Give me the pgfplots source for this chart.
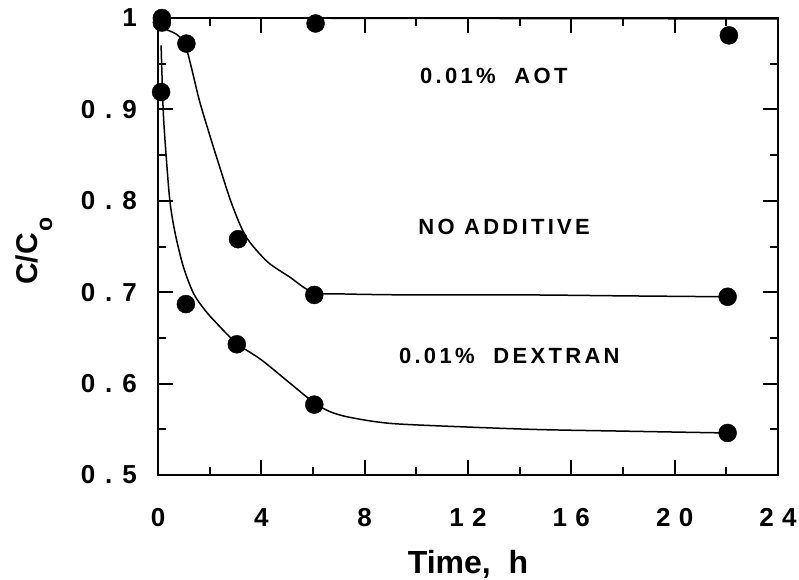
\documentclass[border=0pt]{standalone}
\usepackage{fontspec}
\setmainfont{Liberation Sans}
\newfontfamily\tickfam[LetterSpace=32]{Liberation Sans}
\newfontfamily\ytickfam[LetterSpace=38]{Liberation Sans}
\newfontfamily\labfam[LetterSpace=15]{Liberation Sans}
\usepackage{pgfplots}
\pgfplotsset{compat=1.18}
\newcommand\tickfont{\tickfam\bfseries\fontsize{26bp}{26bp}\selectfont}
\newcommand\ytickfont{\ytickfam\bfseries\fontsize{26bp}{26bp}\selectfont}
\newcommand\labfont{\labfam\bfseries\fontsize{22bp}{22bp}\selectfont}
\begin{document}
\begin{tikzpicture}
\begin{axis}[
  name=ax,
  scale only axis, width=620bp, height=457bp,
  xmin=0, xmax=24, ymin=0.5, ymax=1,
  clip=false,
  xtick={0,4,8,12,16,20,24},
  minor xtick={2,6,10,14,18,22},
  xticklabels={0,4,8,12,16,20,24},
  ytick={0.5,0.6,0.7,0.8,0.9,1},
  minor ytick={0.55,0.65,0.75,0.85,0.95},
  yticklabels={0.5,0.6,0.7,0.8,0.9,1},
  tick align=inside,
  major tick length=15bp, minor tick length=8bp,
  axis line style={line width=2.5bp},
  every tick/.style={black, line width=2bp},
  xticklabel style={font=\tickfont, anchor=north, inner sep=0pt, yshift=-33bp},
  yticklabel style={font=\ytickfont, anchor=east, inner sep=0pt, xshift=-21bp},
  xlabel={Time,\ \ h},
  xlabel style={font=\bfseries\fontsize{32bp}{32bp}\selectfont, at={(axis description cs:0.5,0)}, anchor=north, inner sep=0pt, yshift=-75bp},
  ylabel={C/C\hspace{2bp}\raisebox{-15bp}{\fontsize{23bp}{23bp}\selectfont o}},
  ylabel style={font=\bfseries\fontsize{30bp}{30bp}\selectfont, at={(axis description cs:-0.195,0.49)}, anchor=base, inner sep=0pt},
]
% 0.01% AOT
\addplot[black, line width=1.5bp, mark=none] coordinates {(0.15,1.0) (24,0.999)};
\addplot[only marks, mark=*, mark size=9bp, black] coordinates {(0.15,1.0) (6.1,0.994) (22.1,0.981)};
% No additive
\addplot[black, line width=1.5bp, mark=none, smooth, tension=0.5] coordinates {
 (0.15,0.995) (0.3,0.988) (0.6,0.984) (0.85,0.979) (1.1,0.966) (1.3,0.945) (1.6,0.910)
 (2.0,0.872) (2.4,0.836) (2.85,0.797) (3.4,0.761) (4.17,0.735) (4.69,0.724) (5.08,0.717)
 (6.0,0.700) (7.3,0.698) (10,0.697) (14.4,0.697) (18,0.696) (22,0.695)};
\addplot[only marks, mark=*, mark size=9bp, black] coordinates {(0.15,0.995) (1.1,0.972) (3.1,0.758) (6.05,0.697) (22.05,0.695)};
% 0.01% Dextran
\addplot[black, line width=1.5bp, mark=none, smooth, tension=0.5] coordinates {
 (0.12,0.97) (0.2,0.90) (0.3,0.855) (0.46,0.80) (0.66,0.765) (0.98,0.728) (1.37,0.699)
 (1.8,0.681) (2.27,0.666) (3.05,0.644) (4.0,0.626) (5.0,0.603) (6.0,0.580)
 (6.6,0.570) (7.27,0.564) (8.5,0.558) (9.85,0.555) (14.4,0.550) (18,0.548) (22,0.546)};
\addplot[only marks, mark=*, mark size=9bp, black] coordinates {(0.12,0.919) (1.08,0.687) (3.05,0.643) (6.05,0.577) (22.05,0.546)};
\node[font=\labfont] at (axis cs:13.0,0.9365) {0.01\%\ \ AOT};
\node[font=\labfont] at (axis cs:13.4,0.771) {NO\ ADDITIVE};
\node[font=\labfont] at (axis cs:13.6,0.630) {0.01\%\ \ DEXTRAN};
\end{axis}
\pgfresetboundingbox
\path (ax.south west) ++(-158bp,-105bp) rectangle ++(799bp,580bp);
\end{tikzpicture}
\end{document}
